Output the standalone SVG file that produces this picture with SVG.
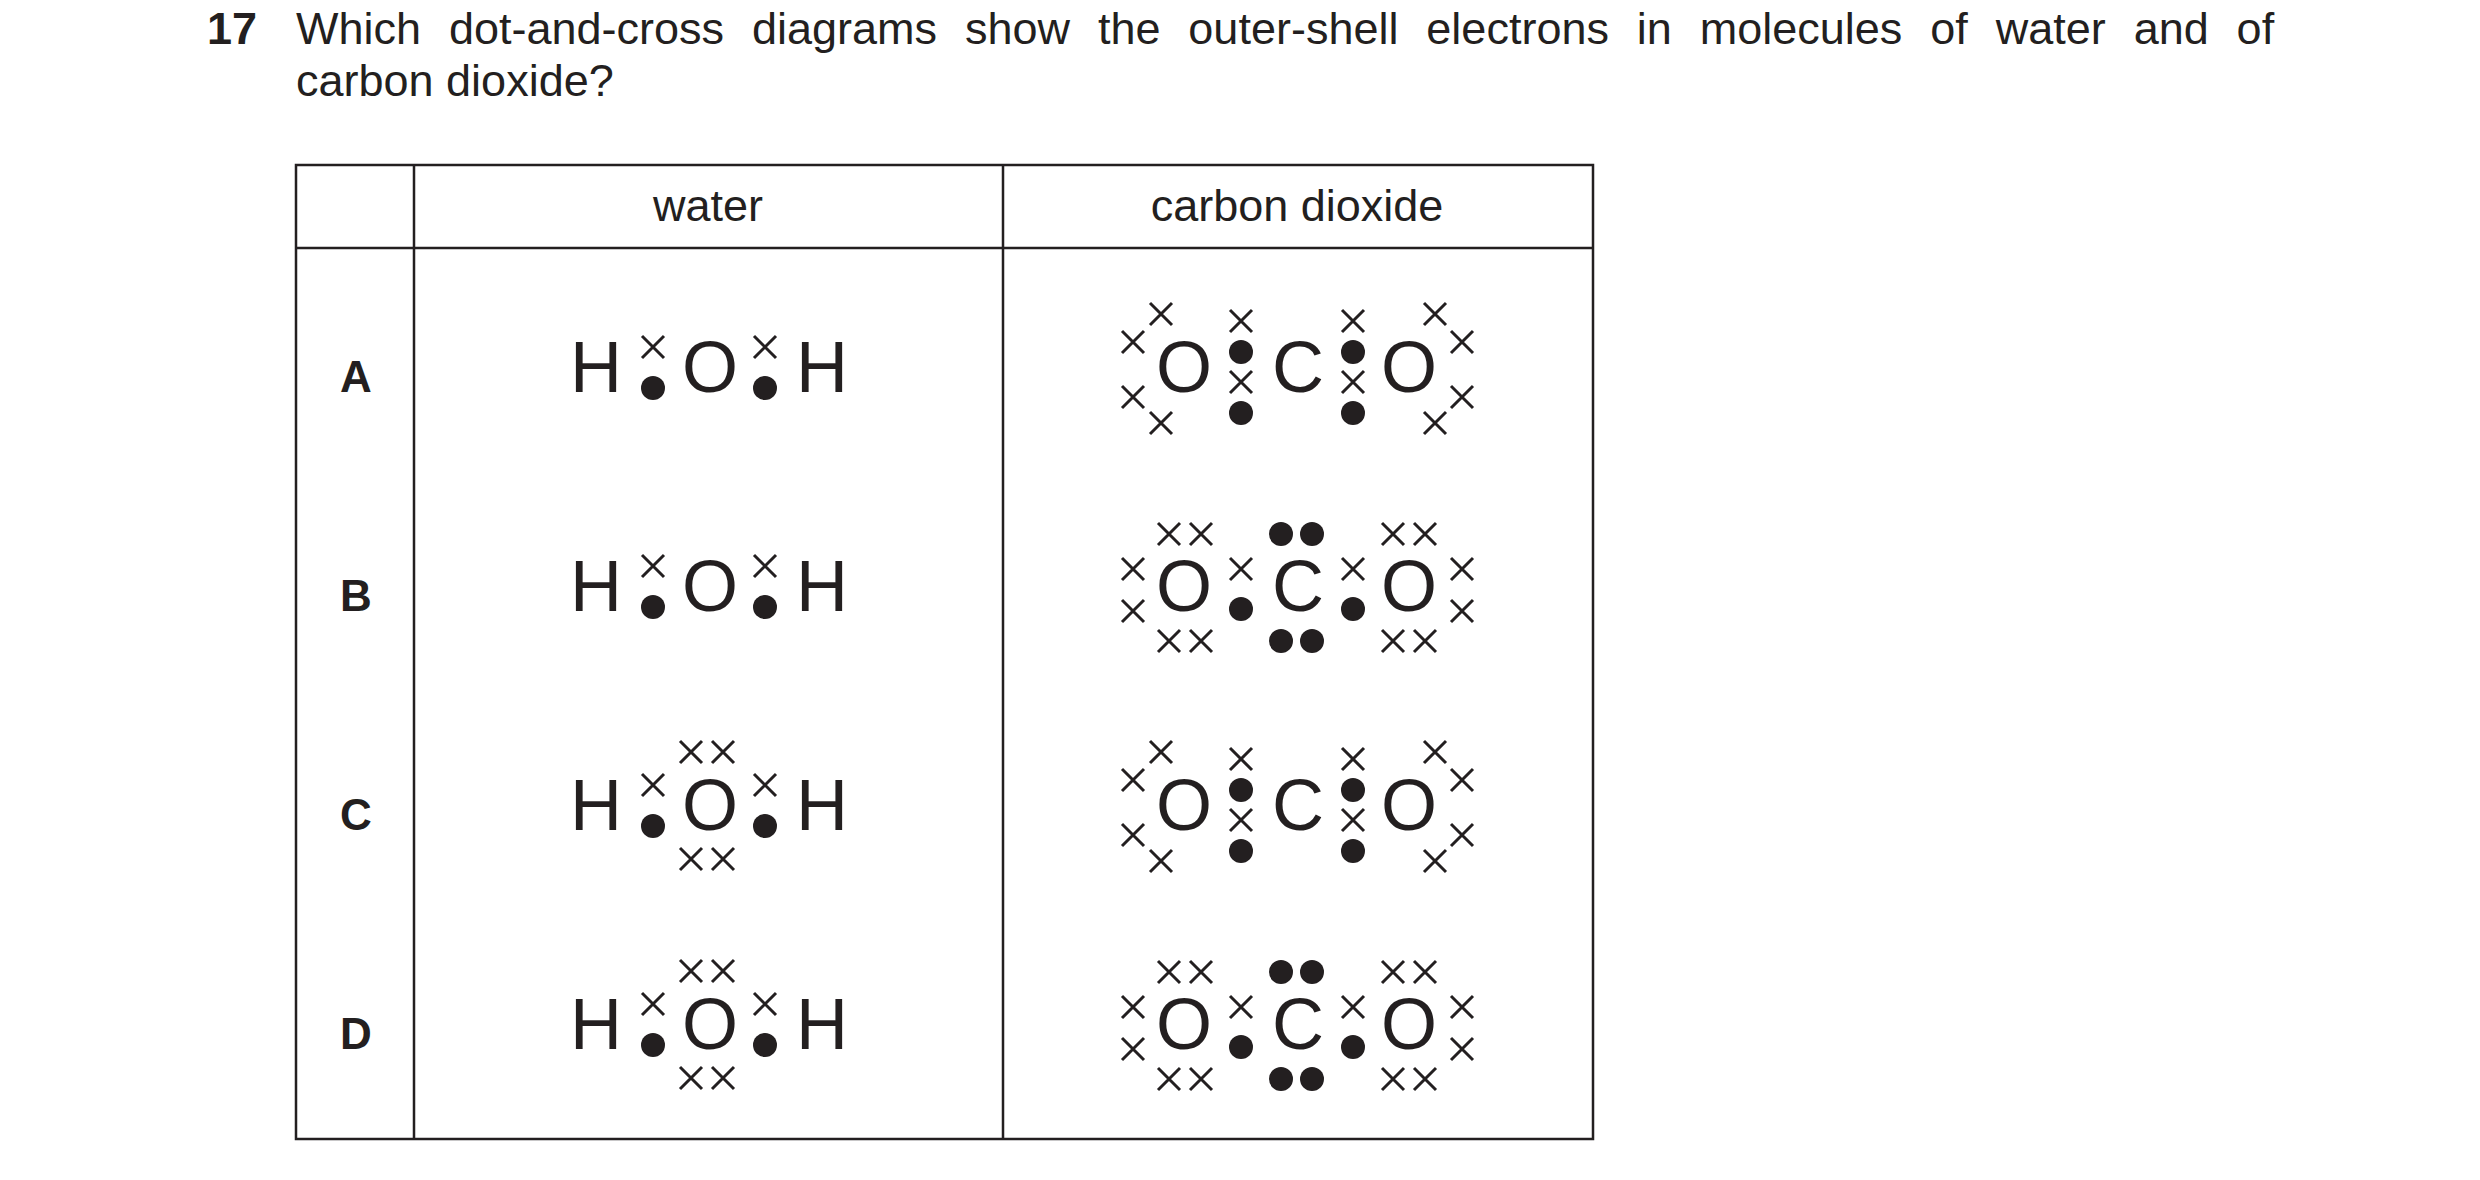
<svg xmlns="http://www.w3.org/2000/svg" xmlns:xlink="http://www.w3.org/1999/xlink" width="2480" height="1180" viewBox="0 0 2480 1180">
<style>
text{font-family:"Liberation Sans",Arial,sans-serif;fill:#231f20}
.t{font-size:45px}
.b{font-weight:bold}
.at{font-size:72px;text-anchor:middle}
.h{font-size:45px;text-anchor:middle}
.lab{font-size:44px;font-weight:bold;text-anchor:middle}
.grid{stroke:#231f20;stroke-width:2.5;fill:none}
</style>
<defs>
<path id="x" d="M-11,-11L11,11M11,-11L-11,11" stroke="#231f20" stroke-width="3" fill="none"/>
<circle id="d" r="12" fill="#231f20"/>
<g id="w1">
<text class="at" x="596" y="0">H</text><text class="at" x="710" y="0">O</text><text class="at" x="822" y="0">H</text>
<use xlink:href="#x" x="653" y="-45"/><use xlink:href="#d" x="653" y="-4"/>
<use xlink:href="#x" x="765" y="-45"/><use xlink:href="#d" x="765" y="-4"/>
</g>
<g id="w2">
<use xlink:href="#w1"/>
<use xlink:href="#x" x="691" y="-78"/><use xlink:href="#x" x="723" y="-78"/>
<use xlink:href="#x" x="691" y="29"/><use xlink:href="#x" x="723" y="29"/>
</g>
<g id="c1">
<text class="at" x="1184" y="0">O</text><text class="at" x="1298" y="0">C</text><text class="at" x="1409" y="0">O</text>
<use xlink:href="#x" x="1161" y="-78"/><use xlink:href="#x" x="1133" y="-50"/><use xlink:href="#x" x="1133" y="5"/><use xlink:href="#x" x="1161" y="31"/>
<use xlink:href="#x" x="1435" y="-78"/><use xlink:href="#x" x="1462" y="-50"/><use xlink:href="#x" x="1462" y="5"/><use xlink:href="#x" x="1435" y="31"/>
<use xlink:href="#x" x="1241" y="-71"/><use xlink:href="#d" x="1241" y="-40"/><use xlink:href="#x" x="1241" y="-10"/><use xlink:href="#d" x="1241" y="21"/>
<use xlink:href="#x" x="1353" y="-71"/><use xlink:href="#d" x="1353" y="-40"/><use xlink:href="#x" x="1353" y="-10"/><use xlink:href="#d" x="1353" y="21"/>
</g>
<g id="c2">
<text class="at" x="1184" y="0">O</text><text class="at" x="1298" y="0">C</text><text class="at" x="1409" y="0">O</text>
<use xlink:href="#x" x="1169" y="-77"/><use xlink:href="#x" x="1201" y="-77"/><use xlink:href="#x" x="1169" y="30"/><use xlink:href="#x" x="1201" y="30"/>
<use xlink:href="#x" x="1133" y="-42"/><use xlink:href="#x" x="1133" y="0"/>
<use xlink:href="#x" x="1393" y="-77"/><use xlink:href="#x" x="1425" y="-77"/><use xlink:href="#x" x="1393" y="30"/><use xlink:href="#x" x="1425" y="30"/>
<use xlink:href="#x" x="1462" y="-42"/><use xlink:href="#x" x="1462" y="0"/>
<use xlink:href="#x" x="1241" y="-42"/><use xlink:href="#d" x="1241" y="-2"/>
<use xlink:href="#x" x="1353" y="-42"/><use xlink:href="#d" x="1353" y="-2"/>
<use xlink:href="#d" x="1281" y="-77"/><use xlink:href="#d" x="1312" y="-77"/><use xlink:href="#d" x="1281" y="30"/><use xlink:href="#d" x="1312" y="30"/>
</g>
</defs>
<rect width="2480" height="1180" fill="#fff"/>
<g id="question">
<text class="t b" x="207" y="44">17</text>
<text class="t" x="296" y="44" word-spacing="15.4">Which dot-and-cross diagrams show the outer-shell electrons in molecules of water and of</text>
<text class="t" x="296" y="96">carbon dioxide?</text>
</g>
<g id="table" class="grid">
<rect x="296" y="165" width="1297" height="974"/>
<line x1="296" y1="248" x2="1593" y2="248"/>
<line x1="414" y1="165" x2="414" y2="1139"/>
<line x1="1003" y1="165" x2="1003" y2="1139"/>
</g>
<g id="headers">
<text class="h" x="708" y="221">water</text>
<text class="h" x="1297" y="221">carbon dioxide</text>
</g>
<g id="rowA"><text class="lab" x="356" y="392">A</text><use xlink:href="#w1" y="392"/><use xlink:href="#c1" y="392"/></g>
<g id="rowB"><text class="lab" x="356" y="611">B</text><use xlink:href="#w1" y="611"/><use xlink:href="#c2" y="611"/></g>
<g id="rowC"><text class="lab" x="356" y="830">C</text><use xlink:href="#w2" y="830"/><use xlink:href="#c1" y="830"/></g>
<g id="rowD"><text class="lab" x="356" y="1049">D</text><use xlink:href="#w2" y="1049"/><use xlink:href="#c2" y="1049"/></g>
<g id="connectors"/>
</svg>
